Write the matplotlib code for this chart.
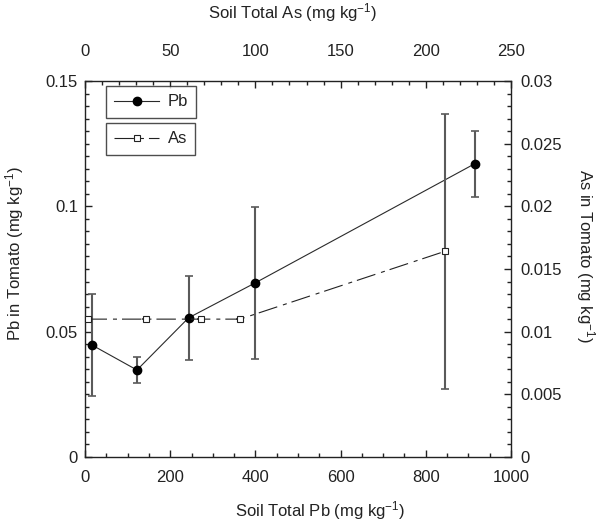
import numpy as np
import matplotlib
matplotlib.use("Agg")
import matplotlib.pyplot as plt
import matplotlib.ticker as ticker

plt.rcParams.update({
    "font.family": ["Liberation Sans", "DejaVu Sans"],
    "font.size": 12,
    "mathtext.default": "regular",
    "lines.scale_dashes": False,
    "text.color": "#222222",
    "xtick.color": "#222222",
    "ytick.color": "#222222",
})

# ── data ──────────────────────────────────────────────────────────────────────
pb_soil = [17, 122, 243, 400, 915]
pb_tomato = [0.0446, 0.0347, 0.0555, 0.0695, 0.117]
pb_err = [0.0204, 0.0050, 0.0167, 0.0303, 0.0131]

as_soil = [1.5, 36, 68, 91, 211]
as_tomato = [0.011, 0.011, 0.011, 0.011, 0.0164]
as_err = [0, 0, 0, 0, 0.011]

W, H = 600, 522
fig = plt.figure(figsize=(W / 100, H / 100), dpi=100)
pos = [85 / W, 1 - 457 / H, (511 - 85) / W, (457 - 81) / H]

ax = fig.add_axes(pos)
ax2 = fig.add_axes(pos, frameon=False)
ax2.patch.set_alpha(0)

ERR_C = "#5a5a5a"

# ── Pb (bottom / left) ───────────────────────────────────────────────────────
ax.errorbar(pb_soil, pb_tomato, yerr=pb_err, fmt="none", ecolor=ERR_C,
            elinewidth=1.5, capsize=3, capthick=1.2, zorder=2)
lpb, = ax.plot(pb_soil, pb_tomato, color="#2a2a2a", lw=0.8, marker="o",
               markersize=6, markerfacecolor="black", markeredgecolor="black",
               zorder=3, label="Pb")
ax.set_xlim(0, 1000)
ax.set_ylim(0, 0.15)
ax.xaxis.set_major_locator(ticker.MultipleLocator(200))
ax.xaxis.set_minor_locator(ticker.MultipleLocator(50))
ax.yaxis.set_major_locator(ticker.MultipleLocator(0.05))
ax.yaxis.set_minor_locator(ticker.MultipleLocator(0.005))
ax.yaxis.set_major_formatter(ticker.FuncFormatter(lambda v, p: f"{v:g}"))
ax.tick_params(which="both", direction="in", top=False, right=False)
ax.tick_params(which="major", length=5, width=1)
ax.tick_params(which="minor", length=3, width=1)
ax.tick_params(axis="x", which="major", pad=9)
ax.tick_params(axis="y", which="major", pad=5)
for s in ax.spines.values():
    s.set_linewidth(1.0)
    s.set_color("#222222")

# ── As (top / right) ─────────────────────────────────────────────────────────
ax2.errorbar(as_soil, as_tomato, yerr=as_err, fmt="none", ecolor=ERR_C,
             elinewidth=1.5, capsize=3, capthick=1.2, zorder=2)
las, = ax2.plot(as_soil, as_tomato, color="#222222", lw=0.8,
                ls=(0, (14, 4.3, 2.9, 3.6)), marker="s", markersize=5,
                markerfacecolor="white", markeredgecolor="#222222",
                markeredgewidth=0.8, zorder=3, label="As", clip_on=False)
ax2.set_xlim(0, 250)
ax2.set_ylim(0, 0.03)
ax2.xaxis.tick_top()
ax2.yaxis.tick_right()
ax2.xaxis.set_major_locator(ticker.MultipleLocator(50))
ax2.xaxis.set_minor_locator(ticker.MultipleLocator(10))
ax2.yaxis.set_major_locator(ticker.MultipleLocator(0.005))
ax2.yaxis.set_minor_locator(ticker.MultipleLocator(0.001))
ax2.yaxis.set_major_formatter(ticker.FuncFormatter(lambda v, p: f"{v:g}"))
ax2.tick_params(which="both", direction="in", bottom=False, left=False,
                top=True, right=True)
ax2.tick_params(which="major", length=5, width=1)
ax2.tick_params(which="minor", length=3, width=1)
ax2.tick_params(axis="x", which="major", pad=16)
ax2.tick_params(axis="y", which="major", pad=6.5)

# ── legends: two separate boxes ──────────────────────────────────────────────
leg_kw = dict(frameon=True, fancybox=False, edgecolor="#222222",
              handlelength=2.7, handletextpad=0.5, borderpad=0.5,
              borderaxespad=0, fontsize=12)
leg1 = ax2.legend([lpb], ["Pb"], loc="upper left",
                  bbox_to_anchor=(106 / W, 1 - 86 / H),
                  bbox_transform=fig.transFigure, **leg_kw)
leg1.get_frame().set_linewidth(1.0)
ax2.add_artist(leg1)
leg2 = ax2.legend([las], ["As"], loc="upper left",
                  bbox_to_anchor=(106 / W, 1 - 123 / H),
                  bbox_transform=fig.transFigure, **leg_kw)
leg2.get_frame().set_linewidth(1.0)

# ── axis labels ──────────────────────────────────────────────────────────────
fig.text(320 / W, 1 - 516 / H, "Soil Total Pb (mg kg$^{-1}$)",
         ha="center", va="baseline")
fig.text(293 / W, 1 - 13 / H, "Soil Total As (mg kg$^{-1}$)",
         ha="center", va="center")
fig.text(15 / W, 1 - 254 / H, "Pb in Tomato (mg kg$^{-1}$)",
         ha="center", va="center", rotation=90)
fig.text(585 / W, 1 - 256 / H, "As in Tomato (mg kg$^{-1}$)",
         ha="center", va="center", rotation=-90)

fig.savefig("out.png", dpi=100)
plt.close(fig)
